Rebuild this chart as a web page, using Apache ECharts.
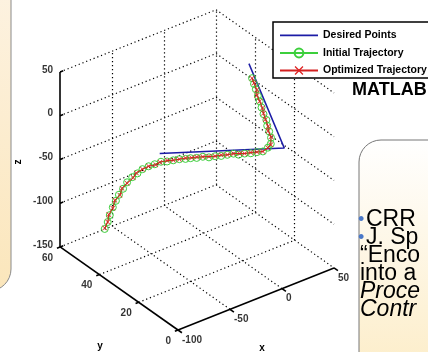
<!DOCTYPE html>
<html><head><meta charset="utf-8">
<script src="https://cdn.jsdelivr.net/npm/echarts@6/dist/echarts.min.js"></script>
<style>html,body{margin:0;padding:0;background:#fff;}#c{width:428px;height:352px;}</style>
</head><body><div id="c"></div>
<script>
// ---- data ----
const xTicks = [-100, -50, 0, 50];
const yTicks = [0, 20, 40, 60];
const zTicks = [-150, -100, -50, 0, 50];
const seriesNames = ['Desired Points', 'Initial Trajectory', 'Optimized Trajectory'];
const desiredX = [-42, 40, 40];
const desiredY = [40, 20, 38];
const desiredZ = [-39, -40, 28];
const initX = [-76,-75,-73,-72,-69,-68,-64,-62,-59,-54,-51,-47,-43,-37,-33,-29,-25,-21,-18,-14,-10,-6,-2,2,6,10,13,17,21,25,27,28,27,31,33,33,36,37,37,39,41,41,43,43];
const initY = [50,49,49,48,48,47,47,46,45,45,44,43,42,42,41,40,39,38,37,36,35,34,33,32,31,30,29,28,27,26,24,22,20,22,24,25,27,29,30,32,34,35,37,38];
const initZ = [-125,-116,-109,-99,-93,-85,-80,-72,-66,-64,-59,-56,-54,-54,-54,-53,-52,-52,-51,-51,-50,-51,-50,-50,-49,-48,-49,-48,-48,-47,-44,-37,-29,-27,-24,-19,-17,-14,-8,-5,-3,3,5,10];
const optX = [-76,-75,-74,-72,-70,-67,-65,-62,-58,-55,-51,-47,-42,-38,-33,-29,-25,-21,-17,-14,-10,-6,-2,2,6,10,14,17,21,25,27,28,27,31,32,34,35,37,38,39,40,42,43,43];
const optY = [50,49,49,48,48,47,47,46,45,45,44,43,42,42,41,40,39,38,37,36,35,34,33,32,31,30,29,28,27,26,24,22,20,22,24,25,27,29,30,32,34,35,37,38];
const optZ = [-124,-116,-108,-100,-92,-86,-79,-73,-67,-63,-59,-56,-55,-54,-53,-53,-52,-51,-51,-50,-50,-50,-50,-49,-49,-48,-48,-48,-47,-47,-44,-37,-30,-26,-23,-20,-16,-13,-9,-5,-2,2,6,10];
const axisNames = ['x', 'y', 'z'];
const noteLines = ['CRR', 'J. Sp', '\u201cEnco', 'into a', 'Proce', 'Contr'];

// ---- 3D view (MATLAB-like oblique projection onto the page grid) ----
const X0 = xTicks[0], X1 = xTicks[xTicks.length-1];
const Y0 = yTicks[0], Y1 = yTicks[yTicks.length-1];
const Z0 = zTicks[0], Z1 = zTicks[zTicks.length-1];
function proj(x, y, z) {
  return [178 + 1.04*(x-X0) - 1.965*(y-Y0),
          330 - 0.414*(x-X0) - 1.385*(y-Y0) - 0.875*(z-Z0)];
}
function path(xs, ys, zs) { return xs.map((x,i) => proj(x, ys[i], zs[i])); }

const gridSegs = [];
zTicks.forEach(z => { gridSegs.push([proj(X0,Y1,z), proj(X1,Y1,z)]); gridSegs.push([proj(X1,Y1,z), proj(X1,Y0,z)]); });
xTicks.filter(x => x > X0).forEach(x => {
  gridSegs.push([proj(x,Y1,Z0), proj(x,Y1,Z1)]);
  if (x < X1) gridSegs.push([proj(x,Y0,Z0), proj(x,Y1,Z0)]);
});
yTicks.filter(y => y > Y0 && y < Y1).forEach(y => {
  gridSegs.push([proj(X1,y,Z0), proj(X1,y,Z1)]);
  gridSegs.push([proj(X0,y,Z0), proj(X1,y,Z0)]);
});
const axisSegs = [[proj(X0,Y1,Z0), proj(X0,Y1,Z1)], [proj(X0,Y1,Z0), proj(X0,Y0,Z0)], [proj(X0,Y0,Z0), proj(X1,Y0,Z0)]];
zTicks.forEach(z => axisSegs.push([proj(X0,Y1,z), proj(X0+3,Y1,z)]));
yTicks.forEach(y => axisSegs.push([proj(X0,y,Z0), proj(X0-3,y,Z0)]));
xTicks.forEach(x => axisSegs.push([proj(x,Y0,Z0), proj(x,Y0-2,Z0)]));

const tickFont = "'Liberation Sans', Arial, sans-serif";
function labelSeries(items, pos, dist, offset) {
  return {
    type: 'scatter', symbol: 'circle', symbolSize: 0, silent: true, z: 5,
    data: items,
    label: { show: true, position: pos, distance: dist, offset: offset, formatter: '{b}',
      fontFamily: tickFont, fontWeight: 'bold', fontSize: 10, color: '#000' }
  };
}

const chart = echarts.init(document.getElementById('c'), null, {renderer: 'canvas'});
const xPath = 'path://M0,1L1,0L5,4L9,0L10,1L6,5L10,9L9,10L5,6L1,10L0,9L4,5Z';
const plainLineIcon = 'path://M0,0H0.01V0.01H0Z M0,4.6H38V6.2H0Z M38,11H37.99V10.99H38Z';
const noteFont = '23px "Liberation Sans", Arial, sans-serif';
chart.setOption({
  animation: false,
  backgroundColor: '#fff',
  grid: { left: 0, right: 0, top: 0, bottom: 0 },
  xAxis: { type: 'value', min: 0, max: 428, show: false },
  yAxis: { type: 'value', min: 0, max: 352, inverse: true, show: false },
  legend: {
    data: [{ name: seriesNames[0], icon: plainLineIcon }, seriesNames[1], seriesNames[2]],
    orient: 'vertical', left: 273, top: 22,
    backgroundColor: '#fff', borderColor: '#000', borderWidth: 1.5,
    padding: [8, 40, 2, 6], itemWidth: 38, itemHeight: 11, itemGap: 6.5,
    textStyle: { fontFamily: tickFont, fontWeight: 'bold', fontSize: 10.5, color: '#000' },
    selectedMode: false
  },
  graphic: [
    { type: 'rect', z: -10, shape: { x: -40, y: -30, width: 51, height: 321, r: 22 },
      style: { fill: new echarts.graphic.LinearGradient(0,0,0,1,[{offset:0,color:'#fdf3e3'},{offset:1,color:'#fbe6bb'}]), stroke: '#8a8a8a', lineWidth: 1 } },
    { type: 'rect', z: -10, shape: { x: 359, y: 140, width: 110, height: 260, r: 22 },
      style: { fill: new echarts.graphic.LinearGradient(0,0,0,1,[{offset:0,color:'#ffffff'},{offset:1,color:'#fcebc2'}]), stroke: '#777', lineWidth: 1 } },
    { type: 'text', x: 352, y: 90, style: { text: 'MATLAB', font: 'bold 18px "Liberation Sans", Arial, sans-serif', fill: '#000', verticalAlign: 'middle' } },
    { type: 'text', x: 358, y: 220, style: { text: '\u2022', font: '18px "Liberation Sans", Arial, sans-serif', fill: '#4a78c8', verticalAlign: 'middle' } },
    { type: 'text', x: 358, y: 238, style: { text: '\u2022', font: '18px "Liberation Sans", Arial, sans-serif', fill: '#4a78c8', verticalAlign: 'middle' } },
    { type: 'text', x: 366, y: 220, style: { text: noteLines[0], font: noteFont, fill: '#000', verticalAlign: 'middle' } },
    { type: 'text', x: 366, y: 238, style: { text: noteLines[1], font: noteFont, fill: '#000', verticalAlign: 'middle' } },
    { type: 'text', x: 360, y: 256, style: { text: noteLines[2], font: noteFont, fill: '#000', verticalAlign: 'middle' } },
    { type: 'text', x: 360, y: 274, style: { text: noteLines[3], font: noteFont, fill: '#000', verticalAlign: 'middle' } },
    { type: 'text', x: 360, y: 292, style: { text: noteLines[4], font: 'italic ' + noteFont, fill: '#000', verticalAlign: 'middle' } },
    { type: 'text', x: 360, y: 310, style: { text: noteLines[5], font: 'italic ' + noteFont, fill: '#000', verticalAlign: 'middle' } },
    { type: 'text', x: 262, y: 348, style: { text: axisNames[0], font: 'bold 10px ' + tickFont, fill: '#000', align: 'center', verticalAlign: 'middle' } },
    { type: 'text', x: 100, y: 346, style: { text: axisNames[1], font: 'bold 10px ' + tickFont, fill: '#000', align: 'center', verticalAlign: 'middle' } },
    { type: 'text', x: 18, y: 162, rotation: Math.PI/2, style: { text: axisNames[2], font: 'bold 10px ' + tickFont, fill: '#000', align: 'center', verticalAlign: 'middle' } }
  ],
  series: [
    { type: 'lines', coordinateSystem: 'cartesian2d', silent: true, z: 1,
      data: gridSegs.map(c => ({ coords: c })),
      lineStyle: { color: '#000', width: 1.2, type: [1.2, 2.8], opacity: 1 } },
    { type: 'lines', coordinateSystem: 'cartesian2d', silent: true, z: 2,
      data: axisSegs.map(c => ({ coords: c })),
      lineStyle: { color: '#000', width: 1.6, opacity: 1 } },
    labelSeries(zTicks.map(z => ({ value: proj(X0,Y1,z), name: String(z) })), 'left', 7, [0, -2]),
    labelSeries(yTicks.map(y => ({ value: proj(X0,y,Z0), name: String(y) })), 'left', 7, [0, 11]),
    labelSeries(xTicks.map(x => ({ value: proj(x,Y0,Z0), name: String(x) })), 'right', 4, [0, 10]),
    { name: seriesNames[0], type: 'line', z: 3, symbol: 'none',
      data: path(desiredX, desiredY, desiredZ),
      lineStyle: { color: '#1c1ca6', width: 1.5 }, itemStyle: { color: '#1c1ca6' } },
    { name: seriesNames[1], type: 'line', z: 4, symbol: 'circle', symbolSize: 7,
      data: path(initX, initY, initZ),
      lineStyle: { color: '#3ccf3c', width: 1 },
      itemStyle: { color: 'rgba(0,0,0,0)', borderColor: '#3ccf3c', borderWidth: 1 } },
    { name: seriesNames[2], type: 'line', z: 5, symbol: xPath, symbolSize: 5,
      data: path(optX, optY, optZ),
      lineStyle: { color: '#d42020', width: 1 },
      itemStyle: { color: '#dd2020' } }
  ]
});
</script>
</body></html>
